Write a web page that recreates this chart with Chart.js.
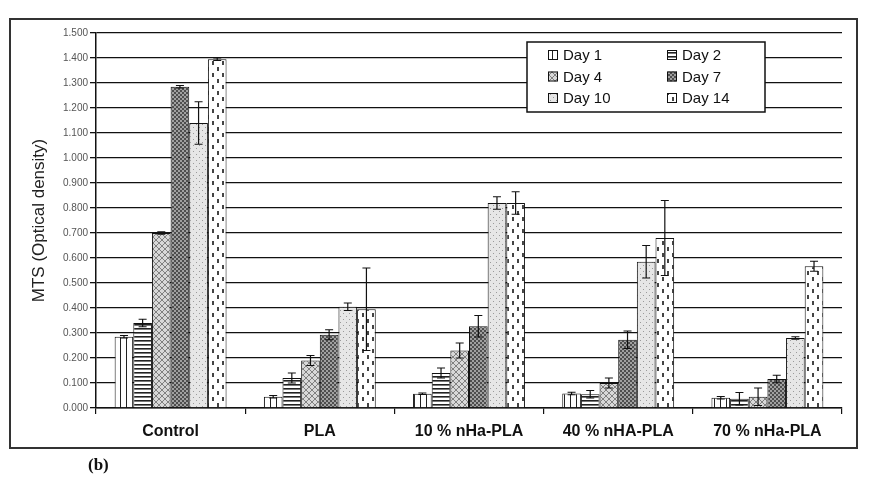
<!DOCTYPE html>
<html><head><meta charset="utf-8">
<script src="https://cdn.jsdelivr.net/npm/chart.js@4/dist/chart.umd.min.js"></script>
<style>
html,body{margin:0;padding:0;background:#fff;}
#wrap{position:relative;width:869px;height:486px;}
#lab{position:absolute;left:88px;top:455px;font:bold 17px "Liberation Serif",serif;color:#111;}
</style></head>
<body><div id="wrap"><canvas id="c" width="869" height="486"></canvas><div id="lab">(b)</div></div>
<script>
const categories = ["Control", "PLA", "10 % nHa-PLA", "40 % nHA-PLA", "70 % nHa-PLA"];
const seriesNames = ["Day 1", "Day 2", "Day 4", "Day 7", "Day 10", "Day 14"];
const day1  = [0.285, 0.045, 0.057, 0.058, 0.041];
const day2  = [0.340, 0.120, 0.140, 0.055, 0.037];
const day4  = [0.700, 0.190, 0.230, 0.100, 0.045];
const day7  = [1.285, 0.293, 0.327, 0.273, 0.116];
const day10 = [1.140, 0.405, 0.820, 0.585, 0.280];
const day14 = [1.395, 0.395, 0.820, 0.680, 0.567];
const err1  = [0.005, 0.005, 0.003, 0.005, 0.005];
const err2  = [0.015, 0.020, 0.020, 0.015, 0.025];
const err4  = [0.005, 0.020, 0.030, 0.020, 0.035];
const err7  = [0.005, 0.020, 0.043, 0.035, 0.015];
const err10 = [0.085, 0.015, 0.025, 0.065, 0.005];
const err14 = [0.005, 0.165, 0.045, 0.150, 0.020];
const yTicksMin = 0, yTicksMax = 1.5, yStep = 0.1;

function pat(w, h, bg, draw) {
  const c = document.createElement('canvas'); c.width = w; c.height = h;
  const x = c.getContext('2d'); x.fillStyle = bg; x.fillRect(0, 0, w, h);
  draw(x); return document.getElementById('c').getContext('2d').createPattern(c, 'repeat');
}
const patterns = [
  pat(6, 6, '#fff', x => { x.fillStyle = '#222'; x.fillRect(0, 0, 1, 6); }),
  pat(4, 4, '#fff', x => { x.fillStyle = '#222'; x.fillRect(0, 0, 4, 1.6); }),
  pat(6, 6, '#d8d8d8', x => { x.strokeStyle = '#808080'; x.lineWidth = 1;
      x.beginPath(); x.moveTo(0, 0); x.lineTo(6, 6); x.moveTo(6, 0); x.lineTo(0, 6); x.stroke(); }),
  pat(4, 4, '#4e4e4e', x => { x.fillStyle = '#a0a0a0'; x.fillRect(0, 0, 2, 2); x.fillRect(2, 2, 2, 2); }),
  pat(6, 6, '#e6e6e6', x => { x.fillStyle = '#9a9a9a'; x.fillRect(1, 1, 1, 1); x.fillRect(4, 4, 1, 1); }),
  pat(10, 12, '#fff', x => { x.fillStyle = '#444'; x.fillRect(2, 1, 2, 4); x.fillRect(7, 7, 2, 4); })
];
const values = [day1, day2, day4, day7, day10, day14];
const errs = [err1, err2, err4, err7, err10, err14];

const frame = {
  id: 'frame',
  beforeDraw(chart) {
    const ctx = chart.ctx; ctx.save();
    ctx.fillStyle = '#fff'; ctx.fillRect(0, 0, chart.width, chart.height);
    ctx.strokeStyle = '#333'; ctx.lineWidth = 2;
    ctx.strokeRect(10, 19, 847, 429);
    ctx.restore();
  }
};
const errorBars = {
  id: 'errorBars',
  afterDatasetsDraw(chart) {
    const ctx = chart.ctx, ys = chart.scales.y; ctx.save();
    ctx.strokeStyle = '#111'; ctx.lineWidth = 1.2;
    chart.data.datasets.forEach((ds, i) => {
      chart.getDatasetMeta(i).data.forEach((el, j) => {
        const v = ds.data[j], e = errs[i][j];
        const t = ys.getPixelForValue(v + e), b = ys.getPixelForValue(Math.max(0, v - e));
        ctx.beginPath();
        ctx.moveTo(el.x, t); ctx.lineTo(el.x, b);
        ctx.moveTo(el.x - 4, t); ctx.lineTo(el.x + 4, t);
        ctx.moveTo(el.x - 4, b); ctx.lineTo(el.x + 4, b);
        ctx.stroke();
      });
    });
    ctx.restore();
  }
};
const legendBox = {
  id: 'legendBox',
  afterDraw(chart) {
    const ctx = chart.ctx; ctx.save();
    ctx.fillStyle = '#fff'; ctx.fillRect(527, 42, 238, 70);
    ctx.strokeStyle = '#111'; ctx.lineWidth = 1.5; ctx.strokeRect(527, 42, 238, 70);
    ctx.font = '15px "Liberation Sans", Arial, sans-serif';
    ctx.textBaseline = 'middle'; ctx.fillStyle = '#111';
    seriesNames.forEach((n, i) => {
      const col = i % 2, row = Math.floor(i / 2);
      const sx = col ? 667 : 548, sy = 55 + row * 21.5;
      ctx.fillStyle = patterns[i]; ctx.fillRect(sx, sy - 5, 10, 10);
      ctx.strokeStyle = '#111'; ctx.lineWidth = 1; ctx.strokeRect(sx + 0.5, sy - 4.5, 9, 9);
      ctx.fillStyle = '#111'; ctx.fillText(n, sx + 15, sy + 1);
    });
    ctx.restore();
  }
};

new Chart(document.getElementById('c'), {
  type: 'bar',
  data: {
    labels: categories,
    datasets: values.map((d, i) => ({
      label: seriesNames[i], data: d, backgroundColor: patterns[i],
      borderColor: '#111', borderWidth: 1, barPercentage: 1, categoryPercentage: 0.75
    }))
  },
  options: {
    responsive: false, animation: false,
    layout: { padding: { left: 0, right: 27, top: 33, bottom: 38 } },
    plugins: { legend: { display: false }, tooltip: { enabled: false } },
    scales: {
      x: {
        afterFit(s) { s.height = 40; },
        grid: { offset: true, drawOnChartArea: false, drawTicks: true, tickLength: 6, color: '#111', lineWidth: 1.2 },
        border: { display: true, color: '#111', width: 1.5 },
        ticks: { padding: 8, color: '#111', font: { family: '"Liberation Sans", Arial', size: 16, weight: 'bold' } }
      },
      y: {
        min: yTicksMin, max: yTicksMax,
        afterFit(s) { s.width = 96; },
        grid: { color: '#111', lineWidth: 1.3, tickLength: 6 },
        border: { display: true, color: '#111', width: 1.5 },
        ticks: { stepSize: yStep, padding: 2, color: '#555',
          font: { family: '"Liberation Sans", Arial', size: 10 },
          callback: v => Number(v).toFixed(3) },
        title: { display: true, text: 'MTS (Optical density)', color: '#222', padding: { top: 29, bottom: 0 },
          font: { family: '"Liberation Sans", Arial', size: 17 } }
      }
    }
  },
  plugins: [frame, errorBars, legendBox]
});
</script></body></html>
